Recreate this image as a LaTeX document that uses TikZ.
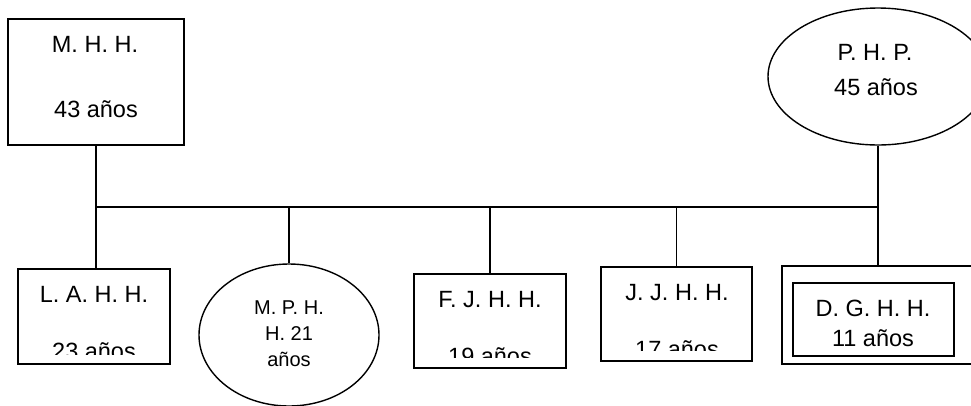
\documentclass[tikz,border=0pt]{standalone}
\usepackage{fontspec}
\setmainfont{Liberation Sans}
\usetikzlibrary{shapes.geometric}
\tikzset{
  shp/.style={draw=black, line width=1.4pt, fill=none},
  conn/.style={draw=black, line width=1.4pt},
  lbl/.style={inner sep=0pt, anchor=base, font=\fontsize{23.5}{26}\selectfont},
  lblsm/.style={inner sep=0pt, anchor=base, font=\fontsize{20}{22}\selectfont},
}
\begin{document}
\begin{tikzpicture}[x=1pt,y=-1pt]
\useasboundingbox (0,0) rectangle (971,405);
\clip (0,0) rectangle (971,405);
% parents
\node[shp, rectangle, minimum width=176pt, minimum height=126pt] (mhh) at (96,82) {};
\node[lbl] (mhh1) at (95,52) {M. H. H.};
\node[lbl] (mhh2) at (96,117) {43 años};
\node[shp, ellipse, minimum width=220pt, minimum height=137pt, inner sep=0pt] (php) at (878,76.5) {};
\node[lbl] (php1) at (875,60) {P. H. P.};
\node[lbl] (php2) at (876,95) {45 años};
% children
\node[shp, rectangle, minimum width=152pt, minimum height=95pt] (lahh) at (94,316.5) {};
\node[shp, ellipse, minimum width=180pt, minimum height=142pt, inner sep=0pt] (mphh) at (289,335) {};
\node[shp, rectangle, minimum width=152pt, minimum height=94pt] (fjhh) at (490,321) {};
\node[shp, rectangle, minimum width=151pt, minimum height=94pt] (jjhh) at (676.5,314) {};
\node[shp, rectangle, minimum width=208pt, minimum height=98pt] (dgout) at (886,315) {};
\node[shp, rectangle, minimum width=161pt, minimum height=73pt] (dghh) at (873.5,319.5) {};
% child texts
\node[lbl] (lahh1) at (94,302) {L. A. H. H.};
\node[lblsm] (mphh1) at (289,314) {M. P. H.};
\node[lblsm] (mphh2) at (289,340) {H. 21};
\node[lblsm] (mphh3) at (289,366) {años};
\node[lbl] (fjhh1) at (490,307) {F. J. H. H.};
\node[lbl] (jjhh1) at (677,300) {J. J. H. H.};
\node[lbl] (dghh1) at (873,316) {D. G. H. H.};
\node[lbl] (dghh2) at (873,346) {11 años};
\begin{scope}
\clip (20,330) rectangle (168,354);
\node[lbl] (lahh2) at (94,359) {23 años};
\end{scope}
\begin{scope}
\clip (416,335) rectangle (564,357);
\node[lbl] (fjhh2) at (490,364) {19 años};
\end{scope}
\begin{scope}
\clip (603,330) rectangle (750,350);
\node[lbl] (jjhh2) at (677,357) {17 años};
\end{scope}
% connectors
\coordinate (jl) at (mhh.south |- 0,207);
\coordinate (jr) at (php.south |- 0,207);
\draw[conn] (jl) -- (jr);
\draw[conn] (mhh.south) -- (lahh.north -| mhh.south);
\draw[conn] (php.south) -- (dgout.north -| php.south);
\draw[conn] (mphh.north |- jl) -- (mphh.north);
\draw[conn] (fjhh.north |- jl) -- (fjhh.north);
\draw[conn] (jjhh.north |- jl) -- (jjhh.north);
\end{tikzpicture}
\end{document}
